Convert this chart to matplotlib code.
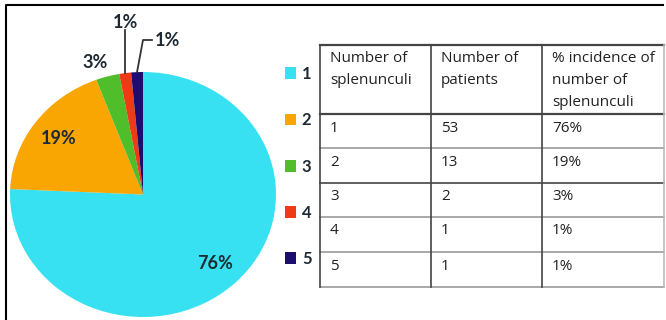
import matplotlib
matplotlib.use("Agg")
import matplotlib.pyplot as plt
from matplotlib.patches import Rectangle
from matplotlib.legend_handler import HandlerPatch
import numpy as np

# ---- data ----
categories = ["1", "2", "3", "4", "5"]
patients = [53, 13, 2, 1, 1]
colors = ["#38E1F1", "#F9A602", "#4FBE2A", "#EE3B16", "#1C0E6E"]
header = [["Number of", "splenunculi"], ["Number of", "patients"],
          ["% incidence of", "number of", "splenunculi"]]

W, H = 666, 320
fig = plt.figure(figsize=(W / 100, H / 100), dpi=100)
fig.patch.set_facecolor("white")
plt.rcParams["font.family"] = ["Open Sans", "DejaVu Sans"]

label_c = "#1E2A33"
bold_family = ["Lato", "DejaVu Sans"]

# ---- pie (ellipse spanning px x 10..276, y 72..317) ----
ax = fig.add_axes([10 / W, (H - 317) / H, 266 / W, 245 / H])
wedges, texts, autotexts = ax.pie(
    patients, colors=colors, startangle=90, counterclock=False,
    autopct="%.0f%%", pctdistance=0.78, radius=1.0,
    textprops=dict(fontsize=13, fontweight="bold", color=label_c,
                   family=bold_family))
ax.set_aspect("auto")
ax.set_xlim(-1, 1)
ax.set_ylim(-1, 1)

def to_data(px, py):
    return (px - 143) / 133, (194.5 - py) / 122.5

def edge(w, r=1.0):
    a = np.deg2rad((w.theta1 + w.theta2) / 2)
    return r * np.cos(a), r * np.sin(a)

autotexts[2].set_position(to_data(95, 62))
autotexts[3].set_position(to_data(125, 22))
autotexts[4].set_position(to_data(168, 41))

ex, ey = edge(wedges[3])
lx, ly = to_data(126, 30)
ax.plot([ex, ex], [ey, ly], color="#333333", lw=1.3, clip_on=False)
ex, ey = edge(wedges[4])
x1, y1 = to_data(143, 40)
x2, y2 = to_data(152, 40)
ax.plot([ex, x1, x2], [ey, y1, y2], color="#333333", lw=1.3, clip_on=False)

# ---- legend ----
class SmallSquare(HandlerPatch):
    def create_artists(self, legend, orig_handle, xdescent, ydescent,
                       width, height, fontsize, trans):
        w, h = 7.6, 5.2
        p = Rectangle((-xdescent + width - w, -ydescent + (height - h) / 2),
                      w, h, facecolor=orig_handle.get_facecolor(),
                      edgecolor="none", transform=trans)
        return [p]

leg = fig.legend(wedges, categories, loc="center left",
                 bbox_to_anchor=(285 / W, (H - 166.5) / H),
                 frameon=False, handlelength=0.66, handleheight=0.72,
                 handletextpad=0.35, labelspacing=1.81,
                 borderpad=0, borderaxespad=0,
                 handler_map={Rectangle: SmallSquare()},
                 prop=dict(size=12, weight="bold", family=bold_family))
for t in leg.get_texts():
    t.set_color(label_c)

# ---- overlay in pixel coordinates: frame + table ----
ov = fig.add_axes([0, 0, 1, 1], zorder=-1)
ov.set_xlim(0, W)
ov.set_ylim(H, 0)
ov.axis("off")
ov.plot([6, 6, 663], [H, 5, 5], color="black", lw=1.5)

col_x = [320, 431, 542, 664]
row_y = [45, 114, 148, 183, 217, 252, 287]
dark, light = "#444444", "#9a9a9a"
ov2 = fig.add_axes([0, 0, 1, 1], zorder=2)
ov2.set_xlim(0, W)
ov2.set_ylim(H, 0)
ov2.axis("off")
ov2.patch.set_alpha(0)
for i, y in enumerate(row_y):
    c = dark if i in (0, 1, 3) else light
    lw = 1.6 if i in (0, 1) else 1.2
    ov2.plot([col_x[0], col_x[-1]], [y, y], color=c, lw=lw)
for j, x in enumerate(col_x):
    c = dark if j < 3 else "#bbbbbb"
    ov2.plot([x, x], [row_y[0], row_y[-1]], color=c, lw=1.2)

fs = 11
tc = "#222222"
for j, lines in enumerate(header):
    for k, s in enumerate(lines):
        ov2.text(col_x[j] + 10, 58 + 22.5 * k, s, fontsize=fs, color=tc,
                 va="center", ha="left")

total = sum(patients)
for i, (cat, n) in enumerate(zip(categories, patients)):
    y = row_y[i + 1] + 14
    vals = [cat, str(n), f"{100 * n / total:.0f}%"]
    for j, v in enumerate(vals):
        ov2.text(col_x[j] + 10, y, v, fontsize=fs, color=tc,
                 va="center", ha="left")

fig.savefig("out.png", dpi=100, facecolor="white")
